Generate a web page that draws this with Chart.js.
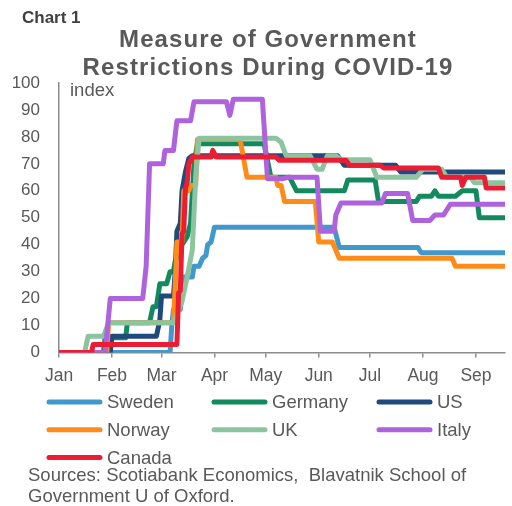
<!DOCTYPE html>
<html>
<head>
<meta charset="utf-8">
<script src="https://cdn.jsdelivr.net/npm/chart.js@4.4.1/dist/chart.umd.min.js"></script>
<style>
  html, body { margin: 0; padding: 0; background: #fff; }
  #wrap { position: relative; width: 512px; height: 506px; }
</style>
</head>
<body>
<div id="wrap"><canvas id="chart"></canvas></div>
<script>
// day of year 2020 (Jan 1 = 0)
const monthLabels = ['Jan', 'Feb', 'Mar', 'Apr', 'May', 'Jun', 'Jul', 'Aug', 'Sep'];
const monthStarts = [0, 31, 60, 91, 121, 152, 182, 213, 244];
const yTicks = [0, 10, 20, 30, 40, 50, 60, 70, 80, 90, 100];

// [day, index] at the points where each series changes
const sweden = [[0,0],[65,0],[66,10],[67,16],[71,16],[72,22],[73,28],[78,28],[79,32],[82,32],[84,35],[86,36],[87,40],[89,41],[91,46.5],[161,46.5],[164,39],[210,39],[212,37],[261,37]];
const germany = [[0,0],[26,0],[27,5.5],[39,5.5],[40,11],[53,11],[55,17],[57,17],[59,25.5],[63,25.5],[65,30],[67,30],[68,34],[72,40],[75,43],[77,48],[79,70],[81,77.5],[120,77.5],[124,65],[135,65],[139,60],[167,60],[169,64],[185,64],[187,56],[209,56],[211,58],[218,58],[220,60],[222,58],[232,58],[236,60],[244,60],[246,50],[261,50]];
const us = [[0,0],[30,0],[31,6],[57,6],[59,12],[60,21],[67,21],[68,30],[69,45],[71,48],[72,60],[74,67],[76,72],[78,73],[163,73],[167,69.5],[197,69.5],[200,67],[261,67]];
const norway = [[0,0],[28,0],[29,11],[67,11],[68,25],[69,41],[72,41],[73,60],[76,60],[77,62],[80,62],[81,79],[106,79],[110,65],[127,65],[128,62],[130,62],[132,56],[150,56],[152,41],[160,41],[164,35],[230,35],[232,32],[261,32]];
const uk = [[0,0],[15,0],[17,6],[26,6],[29,11],[67,11],[69,14],[72,19],[75,28],[78,38],[80,65],[82,79.5],[127,79.5],[130,78],[133,73],[147,73],[151,68],[154,68],[157,73],[162,73],[165,71.5],[182,71.5],[186,65],[209,65],[213,68],[224,68],[227,65],[241,65],[243,63],[261,63]];
const italy = [[0,0],[27,0],[30,20],[49,20],[51,32],[53,70],[61,70],[62,75],[67,75],[69,86],[77,86],[79,93],[98,93],[100,88],[102,94],[119,94],[122,64.5],[131,64.5],[134,65],[151,65],[153,45],[161,45],[162,51],[165,55.5],[189,55.5],[191,59],[204,59],[207,49],[217,49],[220,51],[225,51],[229,55],[261,55]];
const canada = [[0,0],[19,0],[20,3],[69,3],[70,22],[71,23],[72,44],[73,45],[74,61],[75,63],[76,70],[78,72.5],[89,72.5],[90,75],[92,72.5],[127,72.5],[129,71.3],[168,71.3],[170,69.5],[188,69.5],[190,68.5],[222,68.5],[224,65],[235,65],[236,62],[238,65],[249,65],[250,61],[261,61]];

const seriesNames = ['Sweden', 'Germany', 'US', 'Norway', 'UK', 'Italy', 'Canada'];
const seriesData = [sweden, germany, us, norway, uk, italy, canada];
const seriesColors = ['#4198CD', '#128A5E', '#1F4A7E', '#FF8B1A', '#8CC4A0', '#AF62DE', '#EC1C33'];

const titleLines = ['Measure of Government', 'Restrictions During COVID-19'];
const sourceLines = ['Sources: Scotiabank Economics,  Blavatnik School of', 'Government U of Oxford.'];

const FONT = '"Liberation Sans", Arial, sans-serif';
const GREY = '#595959';

const textPlugin = {
  id: 'texts',
  afterDraw(chart) {
    const ctx = chart.ctx;
    ctx.save();
    ctx.textBaseline = 'middle';
    ctx.textAlign = 'left';
    ctx.fillStyle = '#404040';
    ctx.font = 'bold 17px ' + FONT;
    ctx.fillText('Chart 1', 22, 18);

    ctx.fillStyle = GREY;
    ctx.font = 'bold 24px ' + FONT;
    ctx.letterSpacing = '1.1px';
    ctx.textAlign = 'center';
    titleLines.forEach((t, i) => ctx.fillText(t, 268, 40 + i * 28.5));
    ctx.letterSpacing = '0px';

    ctx.textAlign = 'left';
    ctx.font = '18.5px ' + FONT;
    ctx.fillText('index', 70, 91);

    // legend, 3 columns
    seriesNames.forEach((name, i) => {
      const x = 47 + (i % 3) * 165;
      const y = 402 + Math.floor(i / 3) * 27.8;
      ctx.strokeStyle = seriesColors[i];
      ctx.lineWidth = 5;
      ctx.lineCap = 'round';
      ctx.beginPath();
      ctx.moveTo(x + 2, y);
      ctx.lineTo(x + 53, y);
      ctx.stroke();
      ctx.fillStyle = GREY;
      ctx.font = '18.5px ' + FONT;
      ctx.fillText(name, x + 60, y + 1);
    });

    ctx.font = '18.5px ' + FONT;
    sourceLines.forEach((t, i) => ctx.fillText(t, 28, 475.5 + i * 21.5));
    ctx.restore();
  }
};

new Chart(document.getElementById('chart').getContext('2d'), {
  type: 'line',
  data: {
    datasets: seriesNames.map((name, i) => ({
      label: name,
      data: seriesData[i].map(p => ({ x: p[0], y: p[1] })),
      borderColor: seriesColors[i],
      backgroundColor: seriesColors[i],
      order: seriesNames.length - i
    }))
  },
  options: {
    responsive: true,
    maintainAspectRatio: false,
    animation: false,
    layout: { padding: { top: 83, right: 7, left: 0, bottom: 0 } },
    elements: {
      point: { radius: 0 },
      line: { borderWidth: 5, tension: 0, borderCapStyle: 'round', borderJoinStyle: 'round' }
    },
    plugins: {
      legend: { display: false },
      tooltip: { enabled: false }
    },
    scales: {
      x: {
        type: 'linear',
        min: 0,
        max: 261,
        afterBuildTicks: s => { s.ticks = monthStarts.map(v => ({ value: v })); },
        afterFit: s => { s.height = 153.5; },
        grid: { drawOnChartArea: false, drawTicks: true, tickLength: 5, color: '#8c8c8c', lineWidth: 1.5 },
        border: { display: true, color: '#8c8c8c', width: 1.5 },
        ticks: {
          color: GREY,
          padding: 8,
          maxRotation: 0,
          font: { family: FONT, size: 17.5 },
          callback: v => monthLabels[monthStarts.indexOf(v)]
        }
      },
      y: {
        min: 0,
        max: 100,
        afterBuildTicks: s => { s.ticks = yTicks.map(v => ({ value: v })); },
        afterFit: s => { s.width = 59; },
        grid: { display: false },
        border: { display: true, color: '#8c8c8c', width: 1.5 },
        ticks: {
          color: GREY,
          padding: 11,
          font: { family: FONT, size: 17 }
        }
      }
    }
  },
  plugins: [textPlugin]
});
</script>
</body>
</html>
